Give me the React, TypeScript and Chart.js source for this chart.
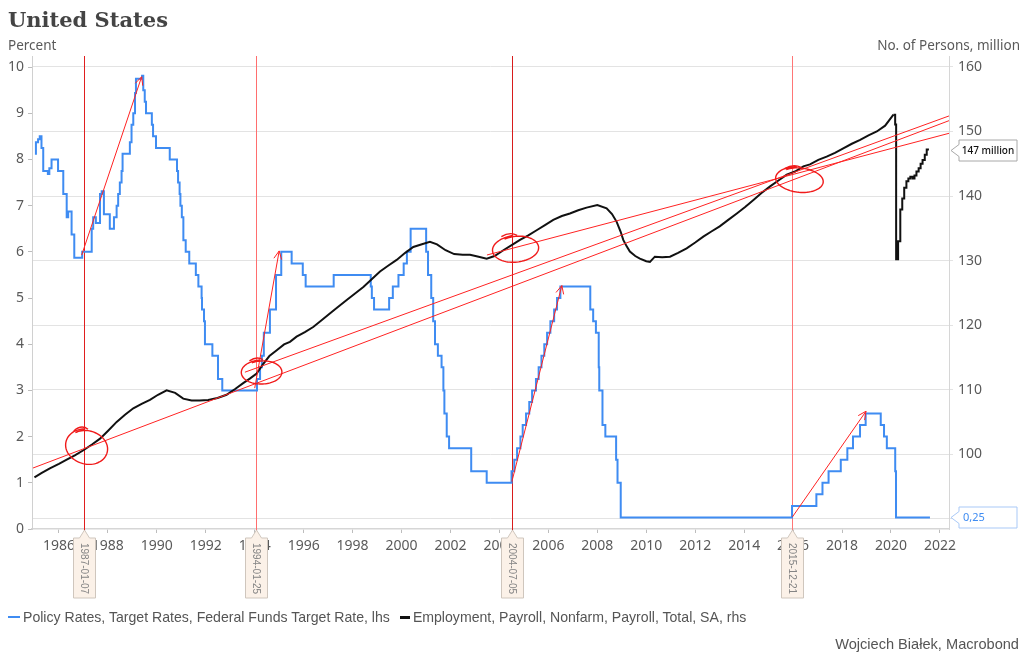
import React, { useEffect, useRef } from 'react';
import { Chart, registerables } from 'chart.js';

Chart.register(...registerables);

// ---------- axes ----------
const X_MIN = 1984.9;
const X_MAX = 2022.37;
const yearTicks = [1986, 1988, 1990, 1992, 1994, 1996, 1998, 2000, 2002, 2004, 2006, 2008, 2010, 2012, 2014, 2016, 2018, 2020, 2022];
const lhsTicks = [0, 1, 2, 3, 4, 5, 6, 7, 8, 9, 10];
const rhsTicks = [90, 100, 110, 120, 130, 140, 150, 160];
const LHS_MIN = 0;
const LHS_MAX = 10.24;
const RHS_MIN = 88.4;
const RHS_MAX = 161.7;

// ---------- Federal Funds Target Rate (change dates, new level) ----------
const rateDates = [
  '1985-01-08', '1985-01-23', '1985-02-24', '1985-03-21', '1985-04-16', '1985-05-12', '1985-07-20', '1985-08-11', '1985-09-13', '1985-12-19',
  '1986-03-07', '1986-04-27', '1986-05-19', '1986-07-09', '1986-08-18', '1986-12-14',
  '1987-05-05', '1987-05-27', '1987-07-06', '1987-09-06', '1987-10-01', '1987-11-03',
  '1988-01-30', '1988-04-01', '1988-05-11', '1988-06-03', '1988-06-28', '1988-07-24', '1988-08-08', '1988-11-25', '1988-12-20',
  '1989-01-15', '1989-02-10', '1989-02-24', '1989-05-26', '1989-06-13', '1989-07-05', '1989-07-24', '1989-10-19', '1989-11-06', '1989-12-20',
  '1990-07-13', '1990-10-29', '1990-11-14', '1990-12-07', '1990-12-19',
  '1991-01-09', '1991-02-01', '1991-03-08', '1991-04-30', '1991-08-06', '1991-09-13', '1991-10-31', '1991-11-06', '1991-12-06', '1991-12-20',
  '1992-04-09', '1992-07-02', '1992-09-04',
  '1994-02-04', '1994-03-22', '1994-04-18', '1994-05-17', '1994-08-16', '1994-11-15',
  '1995-02-01', '1995-07-06', '1995-12-19',
  '1996-01-31', '1997-03-25',
  '1998-09-29', '1998-10-15', '1998-11-17',
  '1999-06-30', '1999-08-24', '1999-11-16',
  '2000-02-02', '2000-03-21', '2000-05-16',
  '2001-01-03', '2001-01-31', '2001-03-20', '2001-04-18', '2001-05-15', '2001-06-27', '2001-08-21', '2001-09-17', '2001-10-02', '2001-11-06', '2001-12-11',
  '2002-11-06', '2003-06-25',
  '2004-06-30', '2004-08-10', '2004-09-21', '2004-11-10', '2004-12-14',
  '2005-02-02', '2005-03-22', '2005-05-03', '2005-06-30', '2005-08-09', '2005-09-20', '2005-11-01', '2005-12-13',
  '2006-01-31', '2006-03-28', '2006-05-10', '2006-06-29',
  '2007-09-18', '2007-10-31', '2007-12-11',
  '2008-01-22', '2008-01-30', '2008-03-18', '2008-04-30', '2008-10-08', '2008-10-29', '2008-12-16',
  '2015-12-16', '2016-12-14',
  '2017-03-15', '2017-06-14', '2017-12-13',
  '2018-03-21', '2018-06-13', '2018-09-26', '2018-12-19',
  '2019-08-01', '2019-09-19', '2019-10-31',
  '2020-03-04', '2020-03-16',
  '2021-08-05',
];
const rateValues = [
  8.125, 8.375, 8.4375, 8.5, 8.25, 7.75, 7.6875, 7.8125, 8.0, 7.75,
  7.25, 6.75, 6.875, 6.375, 5.875, 6.0,
  6.5, 6.75, 6.625, 7.25, 7.3125, 6.8125,
  6.5, 6.75, 7.0, 7.25, 7.5, 7.75, 8.125, 8.375, 8.75,
  9.0, 9.4375, 9.75, 9.8125, 9.5, 9.25, 9.0, 8.75, 8.5, 8.25,
  8.0, 7.75, 7.5, 7.25, 7.0,
  6.75, 6.25, 6.0, 5.75, 5.5, 5.25, 5.0, 4.75, 4.5, 4.0,
  3.75, 3.25, 3.0,
  3.25, 3.5, 3.75, 4.25, 4.75, 5.5,
  6.0, 5.75, 5.5,
  5.25, 5.5,
  5.25, 5.0, 4.75,
  5.0, 5.25, 5.5,
  5.75, 6.0, 6.5,
  6.0, 5.5, 5.0, 4.5, 4.0, 3.75, 3.5, 3.0, 2.5, 2.0, 1.75,
  1.25, 1.0,
  1.25, 1.5, 1.75, 2.0, 2.25,
  2.5, 2.75, 3.0, 3.25, 3.5, 3.75, 4.0, 4.25,
  4.5, 4.75, 5.0, 5.25,
  4.75, 4.5, 4.25,
  3.5, 3.0, 2.25, 2.0, 1.5, 1.0, 0.25,
  0.5, 0.75,
  1.0, 1.25, 1.5,
  1.75, 2.0, 2.25, 2.5,
  2.25, 2.0, 1.75,
  1.25, 0.25,
  0.25,
];

// ---------- Nonfarm payroll employment, millions ----------
const payrollYears = [
  1985.0, 1985.3, 1985.63, 1986.0, 1986.3, 1986.65, 1987.0, 1987.35, 1987.68, 1988.0,
  1988.36, 1988.7, 1989.04, 1989.38, 1989.72, 1990.05, 1990.4, 1990.75, 1991.08, 1991.42,
  1991.75, 1992.1, 1992.48, 1992.85, 1993.2, 1993.53, 1993.8, 1994.08, 1994.35, 1994.6,
  1994.9, 1995.2, 1995.44, 1995.71, 1996.05, 1996.39, 1996.72, 1997.07, 1997.4, 1997.76,
  1998.1, 1998.44, 1998.78, 1999.12, 1999.45, 1999.8, 2000.15, 2000.48, 2000.8, 2001.16,
  2001.45, 2001.8, 2002.15, 2002.5, 2002.8, 2003.15, 2003.48, 2003.8, 2004.16, 2004.5,
  2004.84, 2005.18, 2005.52, 2005.86, 2006.2, 2006.55, 2006.88, 2007.22, 2007.56, 2008.0,
  2008.38, 2008.6, 2008.79, 2008.95, 2009.06, 2009.2, 2009.33, 2009.55, 2009.74, 2010.0,
  2010.15, 2010.35, 2010.65, 2010.97, 2011.3, 2011.65, 2012.0, 2012.33, 2012.66, 2013.0,
  2013.35, 2013.7, 2014.04, 2014.38, 2014.72, 2015.06, 2015.4, 2015.74, 2016.08, 2016.42,
  2016.69, 2017.03, 2017.37, 2017.71, 2018.05, 2018.4, 2018.74, 2019.08, 2019.42, 2019.76,
  2020.1,
];
const payrollMillions = [
  96.4, 97.1, 97.8, 98.5, 99.1, 99.8, 100.6, 101.5, 102.4, 103.6,
  105.0, 106.1, 107.1, 107.8, 108.4, 109.2, 109.9, 109.5, 108.6, 108.3,
  108.3, 108.4, 108.7, 109.2, 110.1, 111.0, 111.7, 112.5, 114.0, 115.2,
  116.1, 117.0, 117.4, 118.2, 118.9, 119.7, 120.7, 121.8, 122.8, 123.9,
  124.9, 125.9, 127.1, 128.3, 129.2, 130.1, 131.2, 132.1, 132.5, 132.9,
  132.5, 131.6, 131.0, 130.9, 130.9, 130.6, 130.3, 130.7, 131.6, 132.4,
  133.2, 133.9, 134.7, 135.5, 136.3, 136.9, 137.3, 137.8, 138.2, 138.6,
  138.1, 137.2, 136.0, 134.5, 133.2, 132.2, 131.4, 130.7, 130.3, 129.9,
  129.8, 130.6, 130.5, 130.6, 131.2, 131.9, 132.8, 133.7, 134.5, 135.3,
  136.3, 137.3, 138.3, 139.4, 140.5, 141.5, 142.4, 143.3, 143.8, 144.6,
  144.9, 145.6, 146.1, 146.7, 147.4, 148.1, 148.7, 149.4, 150.0, 150.9,
  152.6,
];
// monthly steps since the 2020 shock
const payroll2020Years = [
  2020.1, 2020.17, 2020.21, 2020.29, 2020.38, 2020.46, 2020.54, 2020.63, 2020.71, 2020.79,
  2020.88, 2020.96, 2021.04, 2021.13, 2021.21, 2021.29, 2021.38, 2021.46, 2021.55,
];
const payroll2020Millions = [
  152.6, 151.1, 130.2, 133.0, 137.9, 139.6, 141.3, 142.3, 142.7, 143.0,
  142.7, 143.2, 143.8, 144.3, 145.0, 145.6, 146.4, 147.2, 147.2,
];

// ---------- annotations ----------
const markerDates = ['1987-01-07', '1994-01-25', '2004-07-05', '2015-12-21'];
const markerColors = ['#e01e1e', '#ff6e6e', '#d81c1c', '#ff7676'];

const arrowStartYears = [1986.93, 1994.0, 2004.51, 2015.97];
const arrowStartRates = [5.93, 3.05, 1.03, 0.26];
const arrowEndYears = [1989.38, 1995.0, 2006.55, 2018.98];
const arrowEndRates = [9.79, 6.02, 5.27, 2.55];

const trendStartYears = [1984.94, 1993.6, 2003.49];
const trendStartValues = [97.85, 112.7, 130.86];
const trendEndYears = [2022.37, 2022.37, 2022.37];
const trendEndValues = [151.68, 152.41, 149.72];

const circleYears = [1987.15, 1994.3, 2004.68, 2016.28];
const circleValues = [101.1, 112.7, 131.8, 142.5];

// ---------- helpers ----------
function decYear(s: string): number {
  const [y, m, d] = s.split('-').map(Number);
  const start = Date.UTC(y, 0, 1);
  const end = Date.UTC(y + 1, 0, 1);
  return y + (Date.UTC(y, m - 1, d) - start) / (end - start);
}

const BLUE = '#3f8cf2';
const RED = '#ff2222';
const LABEL = '#5a5a5a';

const circleStyle = [
  { rx: 19, ry: 17, ph: 0.6 },
  { rx: 18, ry: 12, ph: 1.8 },
  { rx: 21, ry: 13, ph: 2.6 },
  { rx: 22, ry: 12, ph: 0.2 },
];

const annotationPlugin = {
  id: 'annotations',
  beforeDatasetsDraw(chart: any) {
    const { ctx, chartArea, scales } = chart;
    ctx.save();
    markerDates.forEach((d, i) => {
      const px = Math.round(scales.x.getPixelForValue(decYear(d))) + 0.5;
      ctx.strokeStyle = markerColors[i];
      ctx.lineWidth = 1;
      ctx.beginPath();
      ctx.moveTo(px, chartArea.top);
      ctx.lineTo(px, chartArea.bottom + 2);
      ctx.stroke();
    });
    ctx.restore();
  },
  afterDatasetsDraw(chart: any) {
    const { ctx, scales } = chart;
    ctx.save();
    chart.data.datasets.forEach((ds: any, i: number) => {
      if (!ds.arrowHead) return;
      const pts = chart.getDatasetMeta(i).data;
      const a = pts[0];
      const b = pts[pts.length - 1];
      const ang = Math.atan2(b.y - a.y, b.x - a.x);
      const L = 9;
      ctx.strokeStyle = RED;
      ctx.lineWidth = 1;
      ctx.beginPath();
      ctx.moveTo(b.x - L * Math.cos(ang - 0.45), b.y - L * Math.sin(ang - 0.45));
      ctx.lineTo(b.x, b.y);
      ctx.lineTo(b.x - L * Math.cos(ang + 0.45), b.y - L * Math.sin(ang + 0.45));
      ctx.stroke();
    });
    ctx.strokeStyle = '#f01a1a';
    ctx.lineWidth = 1.4;
    circleYears.forEach((yr, i) => {
      const cx = scales.x.getPixelForValue(yr);
      const cy = scales.y2.getPixelForValue(circleValues[i]);
      const st = circleStyle[i];
      ctx.beginPath();
      const N = 80;
      const t0 = -2.2;
      for (let k = 0; k <= N; k++) {
        const t = t0 + (k / N) * (Math.PI * 2 + 0.5);
        const grow = 1 + 0.1 * (k / N);
        const wob = 1 + 0.07 * Math.sin(2 * t + st.ph);
        const px = cx + st.rx * wob * grow * Math.cos(t);
        const py = cy + st.ry * wob * grow * Math.sin(t);
        if (k === 0) ctx.moveTo(px, py);
        else ctx.lineTo(px, py);
      }
      ctx.stroke();
      ctx.beginPath();
      ctx.moveTo(cx - st.rx * 0.7, cy - st.ry * 0.95);
      ctx.quadraticCurveTo(cx - st.rx * 0.3, cy - st.ry * 1.35, cx + st.rx * 0.05, cy - st.ry * 1.05);
      ctx.stroke();
    });
    ctx.restore();
  },
  afterDraw(chart: any) {
    const { ctx, scales, chartArea } = chart;
    ctx.save();
    markerDates.forEach((d) => {
      const px = Math.round(scales.x.getPixelForValue(decYear(d))) + 0.5;
      const tip = chartArea.bottom + 1;
      const top = tip + 8;
      const bottom = tip + 68;
      const hw = 11;
      ctx.beginPath();
      ctx.moveTo(px, tip);
      ctx.lineTo(px + 5, top);
      ctx.lineTo(px + hw, top);
      ctx.lineTo(px + hw, bottom);
      ctx.lineTo(px - hw, bottom);
      ctx.lineTo(px - hw, top);
      ctx.lineTo(px - 5, top);
      ctx.closePath();
      ctx.fillStyle = '#fbf1e8';
      ctx.fill();
      ctx.strokeStyle = '#cfc6bd';
      ctx.lineWidth = 1;
      ctx.stroke();
      ctx.save();
      ctx.translate(px, top + 5);
      ctx.rotate(Math.PI / 2);
      ctx.fillStyle = '#858585';
      ctx.font = '10px "Liberation Sans"';
      ctx.textAlign = 'left';
      ctx.textBaseline = 'middle';
      ctx.fillText(d, 0, 0.5);
      ctx.restore();
    });
    const callout = (yPix: number, text: string, stroke: string, color: string, font: string, align: 'center' | 'left') => {
      const tipX = chartArea.right + 2;
      const left = chartArea.right + 10;
      const right = chartArea.right + 68;
      const h = 21;
      const y = Math.round(yPix) + 0.5;
      ctx.beginPath();
      ctx.moveTo(tipX, y);
      ctx.lineTo(left, y - 6);
      ctx.lineTo(left, y - h / 2);
      ctx.lineTo(right, y - h / 2);
      ctx.lineTo(right, y + h / 2);
      ctx.lineTo(left, y + h / 2);
      ctx.lineTo(left, y + 6);
      ctx.closePath();
      ctx.fillStyle = '#ffffff';
      ctx.fill();
      ctx.strokeStyle = stroke;
      ctx.lineWidth = 1;
      ctx.stroke();
      ctx.fillStyle = color;
      ctx.font = font;
      ctx.textBaseline = 'middle';
      ctx.textAlign = align;
      ctx.fillText(text, align === 'center' ? (left + right) / 2 : left + 4, y + 0.5);
    };
    const lastPayroll = payroll2020Millions[payroll2020Millions.length - 1];
    callout(scales.y2.getPixelForValue(lastPayroll), `${Math.round(lastPayroll)} million`, '#a8a8a8', '#111', '500 10px "Noto Sans"', 'center');
    const lastRate = rateValues[rateValues.length - 1];
    callout(scales.y.getPixelForValue(lastRate), lastRate.toFixed(2).replace('.', ','), '#a9c9f7', BLUE, '11px "Noto Sans"', 'left');
    ctx.restore();
  },
};

function pairs(xs: number[], ys: number[]) {
  return xs.map((x, i) => ({ x, y: ys[i] }));
}

export default function App() {
  const ref = useRef<HTMLCanvasElement | null>(null);

  useEffect(() => {
    if (!ref.current) return;
    Chart.defaults.font.family = '"Noto Sans", sans-serif';

    const trendSets = trendStartYears.map((_, i) => ({
      label: `trend${i}`,
      data: [
        { x: trendStartYears[i], y: trendStartValues[i] },
        { x: trendEndYears[i], y: trendEndValues[i] },
      ],
      yAxisID: 'y2',
      borderColor: RED,
      borderWidth: 1,
      pointRadius: 0,
      fill: false,
    }));
    const arrowSets = arrowStartYears.map((_, i) => ({
      label: `arrow${i}`,
      arrowHead: true,
      data: [
        { x: arrowStartYears[i], y: arrowStartRates[i] },
        { x: arrowEndYears[i], y: arrowEndRates[i] },
      ],
      yAxisID: 'y',
      borderColor: RED,
      borderWidth: 1,
      pointRadius: 0,
      fill: false,
    }));

    const chart = new Chart(ref.current, {
      type: 'line',
      data: {
        datasets: [
          ...trendSets,
          ...arrowSets,
          {
            label: 'Employment, Payroll, Nonfarm, Payroll, Total, SA, rhs',
            data: pairs(payrollYears, payrollMillions),
            yAxisID: 'y2',
            borderColor: '#111111',
            borderWidth: 2,
            pointRadius: 0,
            tension: 0,
          },
          {
            label: 'Employment 2020-',
            data: pairs(payroll2020Years, payroll2020Millions),
            yAxisID: 'y2',
            borderColor: '#111111',
            borderWidth: 2,
            pointRadius: 0,
            stepped: true,
          },
          {
            label: 'Policy Rates, Target Rates, Federal Funds Target Rate, lhs',
            data: pairs(rateDates.map(decYear), rateValues),
            yAxisID: 'y',
            borderColor: BLUE,
            borderWidth: 2,
            pointRadius: 0,
            stepped: true,
          },
        ] as any,
      },
      options: {
        animation: false,
        responsive: false,
        maintainAspectRatio: false,
        layout: { padding: { top: 56, left: 0, right: 0, bottom: 0 } },
        plugins: { legend: { display: false }, tooltip: { enabled: false }, title: { display: false } },
        scales: {
          x: {
            type: 'linear',
            min: X_MIN,
            max: X_MAX,
            afterBuildTicks: (s: any) => { s.ticks = yearTicks.map((v) => ({ value: v })); },
            afterFit: (s: any) => { s.height = 134; },
            grid: { drawOnChartArea: false, drawTicks: true, tickLength: 4, color: '#bdbdbd' },
            border: { display: true, color: '#d6d6d6', width: 1.5 },
            ticks: {
              autoSkip: false,
              maxRotation: 0,
              padding: 5,
              color: LABEL,
              font: { size: 14 },
              callback: (v: any) => String(v),
            },
          },
          y: {
            type: 'linear',
            position: 'left',
            min: LHS_MIN,
            max: LHS_MAX,
            afterBuildTicks: (s: any) => { s.ticks = lhsTicks.map((v) => ({ value: v })); },
            afterFit: (s: any) => { s.width = 32; },
            grid: { drawOnChartArea: false, drawTicks: true, tickLength: 4, color: '#bdbdbd' },
            border: { display: true, color: '#d0d0d0' },
            ticks: { padding: 4, color: LABEL, font: { size: 14 }, callback: (v: any) => String(v) },
          },
          y2: {
            type: 'linear',
            position: 'right',
            min: RHS_MIN,
            max: RHS_MAX,
            afterBuildTicks: (s: any) => { s.ticks = rhsTicks.map((v) => ({ value: v })); },
            afterFit: (s: any) => { s.width = 75; },
            grid: { drawOnChartArea: true, drawTicks: true, tickLength: 4, color: '#e3e3e3' },
            border: { display: true, color: '#d6d6d6' },
            ticks: {
              padding: 5,
              color: LABEL,
              font: { size: 14 },
              callback: (v: any) => (v === 90 ? '' : String(v)),
            },
          },
        },
      } as any,
      plugins: [annotationPlugin],
    });
    return () => chart.destroy();
  }, []);

  const abs = (s: React.CSSProperties): React.CSSProperties => ({ position: 'absolute', margin: 0, whiteSpace: 'nowrap', ...s });

  return (
    <div style={{ position: 'fixed', left: 0, top: 0, width: 1024, height: 663, background: '#ffffff', overflow: 'hidden' }}>
      <canvas ref={ref} width={1024} height={663} style={{ position: 'absolute', left: 0, top: 0, width: 1024, height: 663 }} />
      <div style={abs({ left: 8, top: 9, font: 'bold 21px "DejaVu Serif", serif', lineHeight: '22px', color: '#444' })}>United States</div>
      <div style={abs({ left: 8, top: 36, font: '13.5px "Noto Sans", sans-serif', lineHeight: '18px', color: LABEL })}>Percent</div>
      <div style={abs({ right: 4, top: 36, font: '13.5px "Noto Sans", sans-serif', lineHeight: '18px', color: LABEL })}>No. of Persons, million</div>
      <div style={abs({ left: 8, top: 608, height: 18, display: 'flex', alignItems: 'center', font: '14.1px "Liberation Sans", sans-serif', color: '#555' })}>
        <span style={{ display: 'inline-block', width: 12, height: 2, background: BLUE, marginRight: 3 }} />
        <span>Policy Rates, Target Rates, Federal Funds Target Rate, lhs</span>
        <span style={{ display: 'inline-block', width: 10, height: 3, background: '#111', marginLeft: 10, marginRight: 3 }} />
        <span>Employment, Payroll, Nonfarm, Payroll, Total, SA, rhs</span>
      </div>
      <div style={abs({ right: 5, top: 635, font: '14.6px "Liberation Sans", sans-serif', lineHeight: '18px', color: '#555' })}>Wojciech Białek, Macrobond</div>
    </div>
  );
}
